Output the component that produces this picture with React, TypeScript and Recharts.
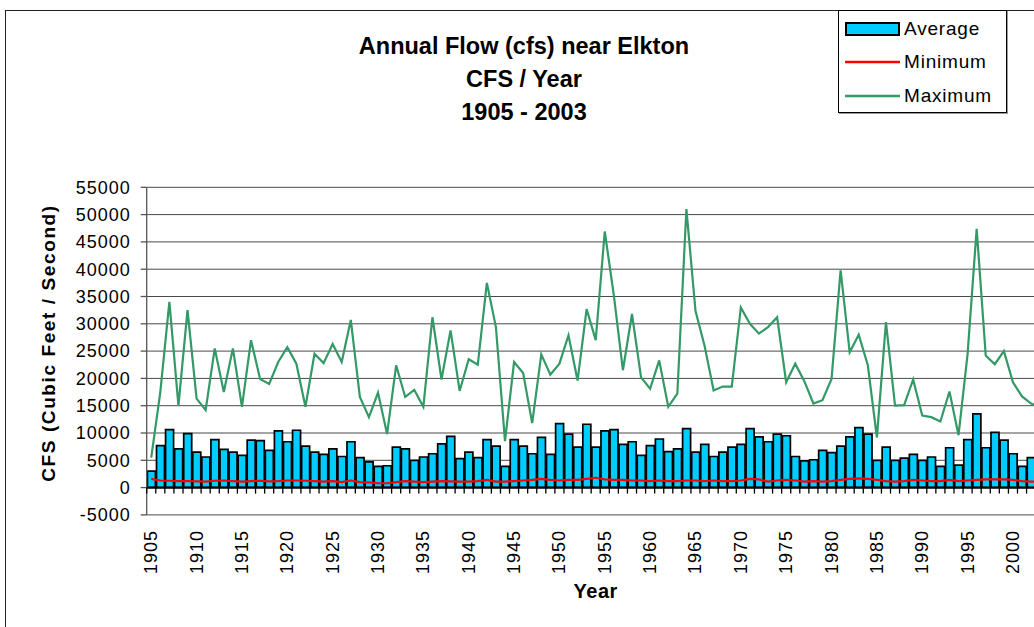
import React from 'react';
import { ComposedChart, Bar, Line, XAxis, YAxis, CartesianGrid, ReferenceLine } from 'recharts';

const years = [
  1905, 1906, 1907, 1908, 1909, 1910, 1911, 1912, 1913, 1914,
  1915, 1916, 1917, 1918, 1919, 1920, 1921, 1922, 1923, 1924,
  1925, 1926, 1927, 1928, 1929, 1930, 1931, 1932, 1933, 1934,
  1935, 1936, 1937, 1938, 1939, 1940, 1941, 1942, 1943, 1944,
  1945, 1946, 1947, 1948, 1949, 1950, 1951, 1952, 1953, 1954,
  1955, 1956, 1957, 1958, 1959, 1960, 1961, 1962, 1963, 1964,
  1965, 1966, 1967, 1968, 1969, 1970, 1971, 1972, 1973, 1974,
  1975, 1976, 1977, 1978, 1979, 1980, 1981, 1982, 1983, 1984,
  1985, 1986, 1987, 1988, 1989, 1990, 1991, 1992, 1993, 1994,
  1995, 1996, 1997, 1998, 1999, 2000, 2001, 2002, 2003,
];

const averageFlow = [
  3000, 7700, 10600, 7100, 9900, 6500, 5600, 8800, 7000, 6500,
  5900, 8700, 8600, 6800, 10400, 8400, 10500, 7600, 6500, 6100,
  7100, 5700, 8400, 5500, 4700, 3900, 4000, 7400, 7100, 5000,
  5600, 6200, 8000, 9400, 5300, 6500, 5500, 8800, 7600, 3900,
  8800, 7600, 6200, 9200, 6100, 11700, 9800, 7400, 11600, 7400,
  10400, 10600, 7900, 8400, 5900, 7700, 8900, 6600, 7100, 10800,
  6500, 7900, 5700, 6500, 7400, 7900, 10800, 9300, 8400, 9800,
  9500, 5700, 4900, 5100, 6800, 6400, 7600, 9300, 11000, 9800,
  5000, 7400, 5000, 5400, 6100, 5000, 5600, 3900, 7300, 4100,
  8800, 13500, 7300, 10100, 8700, 6200, 3900, 5500, 5200,
];

const minimumFlow = [
  1600, 1300, 1250, 1200, 1200, 1150, 1100, 1250, 1300, 1200,
  1100, 1200, 1250, 1150, 1200, 1300, 1300, 1250, 1200, 1100,
  1200, 1000, 1300, 1000, 950, 800, 800, 1000, 1200, 1100,
  1000, 1100, 1200, 1150, 1100, 1100, 1200, 1400, 1100, 1100,
  1200, 1300, 1400, 1600, 1400, 1300, 1400, 1400, 1600, 1800,
  1500, 1400, 1400, 1300, 1300, 1200, 1300, 1200, 1200, 1300,
  1300, 1200, 1300, 1200, 1200, 1300, 1600, 1500, 1100, 1300,
  1400, 1300, 1100, 1200, 1100, 1200, 1400, 1600, 1700, 1600,
  1400, 1200, 1100, 1200, 1400, 1300, 1200, 1200, 1400, 1200,
  1300, 1400, 1500, 1500, 1500, 1400, 1200, 1100, 1100,
];

const maximumFlow = [
  5500, 17500, 34000, 15000, 32500, 16300, 14200, 25500, 17500, 25500,
  14800, 27000, 19900, 19000, 23000, 25700, 22700, 14800, 24500, 22800,
  26300, 23000, 30700, 16600, 12900, 17400, 9800, 22400, 16600, 17900,
  14800, 31200, 19800, 28800, 17700, 23500, 22500, 37500, 29400, 8500,
  23000, 21000, 11800, 24400, 20700, 22700, 27900, 19600, 32700, 27000,
  46900, 35200, 21500, 31800, 20200, 18100, 23300, 14800, 17200, 51000,
  32400, 26000, 17800, 18500, 18500, 33000, 30000, 28200, 29400, 31200,
  19300, 22700, 19500, 15400, 16000, 19900, 39800, 24800, 28000, 22400,
  9200, 30300, 15000, 15100, 19800, 13200, 12900, 12100, 17600, 9600,
  24500, 47400, 24200, 22600, 25000, 19300, 16700, 15400, 14800,
];

const yTicks = [-5000, 0, 5000, 10000, 15000, 20000, 25000, 30000, 35000, 40000, 45000, 50000, 55000];

const data = years.map((y, i) => ({
  year: y,
  Average: averageFlow[i],
  Minimum: minimumFlow[i],
  Maximum: maximumFlow[i],
}));

const FONT = '"Liberation Sans", Arial, Helvetica, sans-serif';
const CHART_W = 1090;
const CHART_H = 627;
const PLOT_LEFT = 146.7;
const PLOT_TOP = 187.3;
const PLOT_BOTTOM = 514.9;
const PLOT_RIGHT = 1044.7;
const Y_MIN = -5000;
const Y_MAX = 55000;
const ZERO_Y = PLOT_TOP + ((PLOT_BOTTOM - PLOT_TOP) * Y_MAX) / (Y_MAX - Y_MIN);
const CAT_W = (PLOT_RIGHT - PLOT_LEFT) / years.length;
const LABEL_TOP = 530;

const XTick = (props: any) => {
  const { x, payload } = props;
  const yr = Number(payload.value);
  const bx = x - CAT_W / 2;
  return (
    <g>
      <line x1={bx} x2={bx} y1={ZERO_Y} y2={ZERO_Y + 6} stroke="#000" strokeWidth={1.3} />
      {(yr - 1905) % 5 === 0 && (
        <g transform={`translate(${x},${LABEL_TOP})`}>
          <text
            transform="rotate(-90)"
            textAnchor="end"
            dominantBaseline="central"
            fontSize={18}
            fontFamily={FONT}
            fill="#000"
            style={{ letterSpacing: '1px' }}
          >
            {yr}
          </text>
        </g>
      )}
    </g>
  );
};

export default function App() {
  return (
    <div
      style={{
        position: 'fixed',
        left: 0,
        top: 0,
        width: 1034,
        height: 627,
        overflow: 'hidden',
        background: '#fff',
        fontFamily: FONT,
      }}
    >
      <div style={{ position: 'absolute', left: 0, top: 0 }}>
        <ComposedChart
          width={CHART_W}
          height={CHART_H}
          data={data}
          margin={{ top: PLOT_TOP, right: CHART_W - PLOT_RIGHT, bottom: 0, left: 0 }}
          barCategoryGap="8%"
        >
          <CartesianGrid horizontal vertical={false} stroke="#4a4a4a" strokeWidth={1} />
          <XAxis
            dataKey="year"
            type="category"
            interval={0}
            height={CHART_H - PLOT_BOTTOM}
            axisLine={false}
            tickLine={false}
            tick={<XTick />}
          />
          <YAxis
            type="number"
            domain={[Y_MIN, Y_MAX]}
            ticks={yTicks}
            interval={0}
            width={PLOT_LEFT}
            allowDataOverflow
            axisLine={{ stroke: '#555', strokeWidth: 1.3 }}
            tickLine={{ stroke: '#555', strokeWidth: 1.3 }}
            tickSize={6}
            tickMargin={10}
            tick={{ fontSize: 18, fill: '#000', fontFamily: FONT, style: { letterSpacing: '1px' } }}
          />
          <Bar
            dataKey="Average"
            fill="#00CCFF"
            stroke="#000"
            strokeWidth={1.7}
            isAnimationActive={false}
          />
          <ReferenceLine y={0} stroke="#000" strokeWidth={2} ifOverflow="extendDomain" />
          <Line
            dataKey="Minimum"
            type="linear"
            stroke="#FF0000"
            strokeWidth={2.2}
            dot={false}
            activeDot={false}
            isAnimationActive={false}
          />
          <Line
            dataKey="Maximum"
            type="linear"
            stroke="#339966"
            strokeWidth={2.2}
            dot={false}
            activeDot={false}
            isAnimationActive={false}
          />
        </ComposedChart>
      </div>

      {/* outer frame */}
      <div
        style={{
          position: 'absolute',
          left: 5,
          top: 10,
          width: 1100,
          height: 700,
          borderTop: '1px solid #222',
          borderLeft: '1px solid #222',
          pointerEvents: 'none',
        }}
      />

      {/* title */}
      <div
        style={{
          position: 'absolute',
          left: 0,
          top: 30,
          width: 1048,
          textAlign: 'center',
          fontWeight: 'bold',
          fontSize: 23.5,
          lineHeight: '33px',
          color: '#000',
        }}
      >
        <div>Annual Flow (cfs) near Elkton</div>
        <div>CFS / Year</div>
        <div>1905 - 2003</div>
      </div>

      {/* y axis title */}
      <div
        style={{
          position: 'absolute',
          left: 49,
          top: 343,
          transform: 'translate(-50%, -50%) rotate(-90deg)',
          whiteSpace: 'nowrap',
          fontWeight: 'bold',
          fontSize: 19,
          letterSpacing: '1.6px',
          color: '#000',
        }}
      >
        CFS (Cubic Feet / Second)
      </div>

      {/* x axis title */}
      <div
        style={{
          position: 'absolute',
          left: (PLOT_LEFT + PLOT_RIGHT) / 2,
          top: 591,
          transform: 'translate(-50%, -50%)',
          whiteSpace: 'nowrap',
          fontWeight: 'bold',
          fontSize: 20,
          letterSpacing: '0.5px',
          color: '#000',
        }}
      >
        Year
      </div>

      {/* legend */}
      <div
        style={{
          position: 'absolute',
          left: 838,
          top: 10,
          width: 167,
          height: 101,
          border: '1px solid #000',
          boxShadow: '1px 1px 0 #999',
          background: '#fff',
          fontSize: 19,
          letterSpacing: '0.8px',
          color: '#000',
        }}
      >
        {[
          { name: 'Average', type: 'bar', color: '#00CCFF' },
          { name: 'Minimum', type: 'line', color: '#FF0000' },
          { name: 'Maximum', type: 'line', color: '#339966' },
        ].map((item, i) => (
          <div
            key={item.name}
            style={{
              position: 'absolute',
              left: 6,
              top: 1 + i * 33.5,
              height: 33,
              display: 'flex',
              alignItems: 'center',
              whiteSpace: 'nowrap',
            }}
          >
            <svg width={56} height={20} style={{ display: 'block' }}>
              {item.type === 'bar' ? (
                <rect x={1} y={4} width={53} height={12} fill={item.color} stroke="#000" strokeWidth={2} />
              ) : (
                <line x1={0} x2={55} y1={10} y2={10} stroke={item.color} strokeWidth={2.5} />
              )}
            </svg>
            <span style={{ marginLeft: 3 }}>{item.name}</span>
          </div>
        ))}
      </div>
    </div>
  );
}
